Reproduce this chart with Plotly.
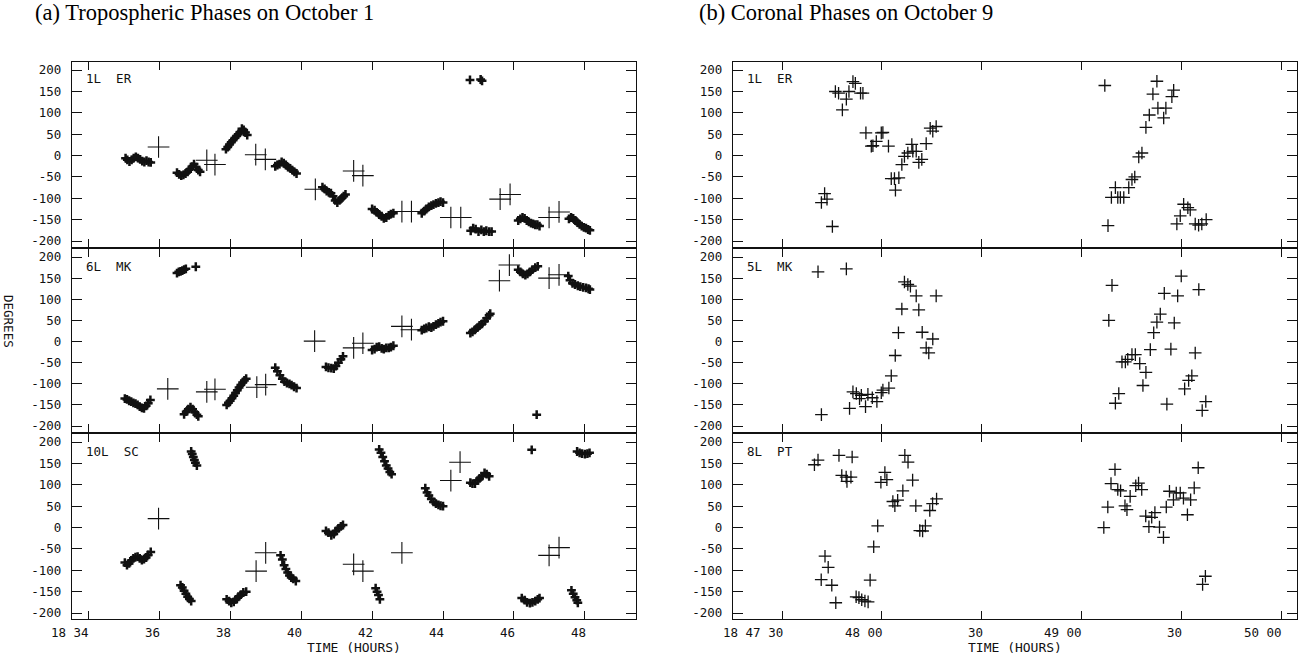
import plotly.graph_objects as go

# ---------------- DATA ----------------
# (a) Tropospheric phases, October 1 (time in hours, phase in degrees)
er1_t = [35.05,35.1,35.16,35.22,35.28,35.34,35.4,35.46,35.52,35.58,35.64,35.7,35.76,
         36.5,36.56,36.62,36.68,36.74,36.8,36.86,36.92,36.98,37.04,37.1,37.15,
         37.88,37.93,37.98,38.03,38.08,38.13,38.18,38.23,38.28,38.33,38.38,38.43,38.48,
         39.27,39.33,39.39,39.45,39.51,39.57,39.63,39.69,39.75,39.81,39.87,
         40.6,40.66,40.72,40.78,40.84,40.9,40.96,41.02,41.08,41.14,41.2,41.25,
         42.0,42.07,42.13,42.2,42.27,42.33,42.4,42.47,42.53,42.6,
         43.4,43.47,43.53,43.6,43.67,43.73,43.8,43.87,43.93,44.0,
         44.78,44.85,44.92,45.0,45.08,45.15,45.22,45.3,45.37,
         44.76,45.06,45.1,
         46.12,46.18,46.24,46.3,46.36,46.42,46.48,46.54,46.6,46.66,46.72,
         47.55,47.61,47.67,47.73,47.79,47.85,47.91,47.97,48.03,48.09,48.14]
er1_deg = [-6,-10,-14,-10,-6,-3,-6,-9,-13,-15,-12,-15,-16,
           -40,-44,-47,-45,-42,-38,-32,-26,-20,-27,-34,-38,
           15,20,26,31,36,41,46,50,55,63,60,54,48,
           -25,-22,-20,-15,-18,-22,-27,-30,-34,-38,-42,
           -74,-78,-83,-86,-88,-95,-105,-110,-105,-100,-95,-91,
           -125,-128,-133,-138,-142,-147,-145,-140,-137,-135,
           -135,-130,-125,-120,-117,-115,-112,-110,-108,-110,
           -176,-170,-172,-178,-174,-178,-176,-178,-178,
           177,178,175,
           -152,-148,-145,-147,-152,-155,-158,-160,-162,-162,-165,
           -148,-145,-147,-152,-157,-161,-165,-168,-170,-173,-175]
er1_big_t = [35.98,37.34,37.57,38.72,38.99,40.4,41.48,41.74,42.84,43.11,44.22,44.5,45.61,45.89,46.99,47.27]
er1_big_deg = [20,-11,-21,2,-9,-79,-36,-47,-131,-131,-145,-145,-102,-91,-145,-132]

mk6_t = [35.03,35.09,35.15,35.21,35.27,35.33,35.39,35.45,35.51,35.57,35.63,35.69,35.75,
         36.5,36.55,36.6,36.65,36.7,36.75,37.03,
         36.7,36.76,36.82,36.88,36.94,37.0,37.06,37.1,
         37.9,37.95,38.0,38.05,38.1,38.15,38.2,38.25,38.3,38.35,38.4,38.45,
         39.27,39.33,39.4,39.47,39.53,39.6,39.67,39.73,39.8,39.87,
         40.7,40.77,40.85,40.92,40.98,41.05,41.12,41.18,
         42.0,42.07,42.13,42.2,42.27,42.33,42.4,42.47,42.53,42.6,
         43.4,43.47,43.53,43.6,43.67,43.73,43.8,43.87,43.93,44.0,
         44.77,44.83,44.9,44.97,45.03,45.1,45.17,45.23,45.3,45.33,
         46.12,46.18,46.25,46.32,46.38,46.45,46.52,46.6,46.67,
         46.64,
         47.53,47.58,47.65,47.72,47.8,47.87,47.95,48.03,48.1,48.14]
mk6_deg = [-135,-137,-140,-142,-145,-147,-150,-154,-157,-158,-152,-146,-138,
           162,165,166,168,170,172,177,
           -172,-166,-160,-155,-160,-167,-173,-177,
           -150,-145,-140,-134,-128,-122,-115,-109,-103,-97,-92,-88,
           -62,-70,-80,-88,-95,-98,-100,-103,-107,-110,
           -60,-62,-63,-64,-58,-50,-42,-35,
           -20,-18,-13,-12,-16,-18,-15,-15,-13,-10,
           27,30,32,35,33,36,40,43,46,48,
           20,23,28,33,38,42,48,55,62,66,
           170,165,160,157,160,165,170,175,178,
           -173,
           155,145,138,135,132,130,128,127,125,123]
mk6_big_t = [36.24,37.34,37.57,38.75,39.0,40.38,41.48,41.74,42.84,43.11,45.59,45.87,46.99,47.27]
mk6_big_deg = [-112,-119,-113,-108,-102,1,-15,-4,36,28,144,181,150,158]

sc10_t = [35.03,35.09,35.15,35.21,35.27,35.33,35.39,35.45,35.51,35.57,35.63,35.69,35.76,
          36.9,36.93,36.96,36.99,37.02,37.06,
          36.6,36.65,36.7,36.75,36.8,36.85,36.9,
          37.9,37.97,38.03,38.1,38.17,38.23,38.3,38.37,38.45,
          39.42,39.47,39.52,39.57,39.62,39.67,39.72,39.78,39.85,
          40.7,40.77,40.85,40.92,40.98,41.05,41.12,41.18,
          42.2,42.25,42.3,42.35,42.4,42.45,42.5,42.55,
          42.1,42.14,42.18,42.22,
          43.5,43.55,43.6,43.67,43.73,43.8,43.87,43.93,44.0,
          44.77,44.83,44.9,44.97,45.03,45.1,45.17,45.23,45.3,
          46.5,
          46.22,46.3,46.37,46.45,46.52,46.6,46.67,46.72,
          47.62,47.67,47.72,47.77,47.8,
          47.78,47.85,47.92,48.0,48.07,48.13]
sc10_deg = [-82,-88,-84,-77,-72,-69,-68,-72,-76,-74,-70,-64,-57,
            178,172,165,158,152,145,
            -135,-140,-148,-155,-162,-167,-172,
            -168,-172,-176,-174,-168,-162,-157,-152,-150,
            -65,-75,-88,-97,-105,-112,-117,-120,-125,
            -8,-12,-18,-15,-8,-2,3,6,
            183,175,165,155,145,138,130,125,
            -142,-150,-158,-168,
            92,82,75,67,60,56,53,51,50,
            105,103,103,110,115,120,128,125,120,
            182,
            -165,-170,-175,-177,-175,-172,-168,-165,
            -147,-155,-163,-170,-176,
            178,175,173,172,173,175]
sc10_big_t = [35.98,38.73,39.0,41.48,41.74,42.84,44.22,44.48,46.99,47.27]
sc10_big_deg = [21,-102,-59,-86,-102,-59,110,153,-65,-47]

# (b) Coronal phases, October 9 (time in hours, phase in degrees)
er1b_t = [47.697,47.713,47.725,47.752,47.767,47.783,47.802,47.822,47.835,47.855,47.867,47.893,47.905,
          47.92,47.947,47.955,47.972,47.997,48.005,48.033,48.047,48.063,48.068,48.085,48.1,48.113,
          48.13,48.15,48.155,48.172,48.185,48.2,48.222,48.242,48.255,48.272,
          49.117,49.133,49.15,49.17,49.182,49.195,49.212,49.237,49.253,49.267,49.287,49.303,49.323,
          49.34,49.358,49.378,49.383,49.412,49.423,49.453,49.462,49.478,49.495,49.512,49.533,49.545,
          49.57,49.587,49.603,49.625]
er1b_deg = [-110,-89,-102,-166,150,146,107,132,150,173,169,146,146,
            53,22,23,33,53,54,22,-54,-54,-81,-52,-21,-2,
            6,26,10,10,-16,-9,28,64,57,68,
            164,-164,-98,-75,-98,-98,-98,-75,-56,-50,-3,6,66,
            95,144,174,111,88,111,138,153,-160,-141,-114,-122,-127,
            -160,-163,-160,-150]

mk5_t = [47.68,47.697,47.822,47.838,47.855,47.872,47.888,47.897,47.918,47.93,47.952,47.975,47.997,
         48.005,48.035,48.047,48.067,48.083,48.1,48.113,48.13,48.143,48.172,48.185,48.202,48.222,
         48.235,48.255,48.272,
         49.137,49.153,49.17,49.187,49.203,49.22,49.232,49.253,49.27,49.292,49.308,49.323,49.345,
         49.362,49.378,49.395,49.415,49.428,49.448,49.465,49.482,49.5,49.517,49.537,49.553,49.57,
         49.588,49.605,49.623]
mk5_deg = [165,-173,172,-158,-119,-123,-135,-127,-154,-125,-133,-142,-121,
           -115,-110,-81,-33,21,77,141,135,131,108,75,22,-15,
           -27,6,108,
           50,133,-146,-123,-48,-48,-42,-31,-31,-52,-104,-73,-19,
           21,46,65,114,-148,-18,44,108,155,-112,-92,-81,-27,
           123,-163,-142]

pt8_t = [47.662,47.68,47.696,47.715,47.731,47.749,47.769,47.785,47.799,47.821,47.825,47.845,47.851,
         47.871,47.885,47.899,47.915,47.931,47.941,47.959,47.979,47.995,48.015,48.025,48.055,48.065,
         48.079,48.105,48.115,48.131,48.154,48.17,48.19,48.204,48.218,48.24,48.254,48.274,
         49.112,49.132,49.148,49.168,49.182,49.196,49.218,49.228,49.244,49.272,49.286,49.302,49.322,
         49.338,49.352,49.368,49.391,49.411,49.425,49.441,49.461,49.475,49.495,49.511,49.531,49.547,
         49.565,49.585,49.607,49.621]
pt8_deg = [147,158,-122,-67,-93,-135,-176,169,122,118,108,118,165,
           -162,-164,-169,-172,-174,-123,-45,4,106,129,112,61,51,
           64,86,169,153,111,51,-7,-8,4,40,56,67,
           0,48,103,136,89,86,51,42,73,98,104,89,27,
           2,24,35,1,-23,48,85,65,81,81,69,30,65,
           93,140,-133,-114]

deg_ticks = [-200, -150, -100, -50, 0, 50, 100, 150, 200]
deg_labels = ["-200", "-150", "-100", "-50", "0", "50", "100", "150", "200"]
left_time_ticks = [34, 36, 38, 40, 42, 44, 46, 48]
left_time_labels = ["18 34", "36", "38", "40", "42", "44", "46", "48"]
right_time_ticks = [47.5, 48.0, 48.5, 49.0, 49.5, 50.0]
right_time_labels = ["18 47 30", "48 00", "30", "49 00", "30", "50 00"]
left_station_labels = ["1L  ER", "6L  MK", "10L  SC"]
right_station_labels = ["1L  ER", "5L  MK", "8L  PT"]

# ---------------- FIGURE ----------------
W, H = 1314, 658
MONO = "DejaVu Sans Mono"
INK = "#111111"

def px_x(p):
    return p / W

def px_y(p):
    return 1 - p / H

xL = [px_x(72), px_x(636)]
xR = [px_x(733), px_x(1297)]
rows = [(62, 247), (249, 432), (434, 619)]
ydoms = [[px_y(b), px_y(t)] for t, b in rows]

fig = go.Figure()

small = dict(symbol="cross-thin", size=6.3, color=INK, line=dict(width=2.5, color=INK))
big = dict(symbol="cross-thin", size=15.5, color=INK, line=dict(width=1.1, color=INK))
mid = dict(symbol="cross-thin", size=9, color=INK, line=dict(width=1.3, color=INK))

left_sets = [(er1_t, er1_deg, er1_big_t, er1_big_deg),
             (mk6_t, mk6_deg, mk6_big_t, mk6_big_deg),
             (sc10_t, sc10_deg, sc10_big_t, sc10_big_deg)]
right_sets = [(er1b_t, er1b_deg), (mk5_t, mk5_deg), (pt8_t, pt8_deg)]

def ax_suffix(i):
    return "" if i == 1 else str(i)

for r in range(3):
    i = r + 1
    st, sd, bt, bd = left_sets[r]
    fig.add_trace(go.Scatter(x=st, y=sd, mode="markers", marker=small,
                             xaxis="x" + ax_suffix(i), yaxis="y" + ax_suffix(i), showlegend=False))
    fig.add_trace(go.Scatter(x=bt, y=bd, mode="markers", marker=big,
                             xaxis="x" + ax_suffix(i), yaxis="y" + ax_suffix(i), showlegend=False))
    j = r + 4
    rt, rd = right_sets[r]
    fig.add_trace(go.Scatter(x=rt, y=rd, mode="markers", marker=mid,
                             xaxis="x" + ax_suffix(j), yaxis="y" + ax_suffix(j), showlegend=False))

tickfont = dict(family=MONO, size=12.5, color=INK)
layout = dict(width=W, height=H, autosize=False, margin=dict(l=0, r=0, t=0, b=0, pad=0, autoexpand=False),
              paper_bgcolor="white", plot_bgcolor="white", showlegend=False)

for r in range(3):
    for col in range(2):
        i = r + 1 + 3 * col
        s = ax_suffix(i)
        if col == 0:
            xr = [33.54, 49.44]
            tv = left_time_ticks
            dom = xL
        else:
            xr = [47.254, 50.08]
            tv = right_time_ticks
            dom = xR
        layout["xaxis" + s] = dict(domain=dom, range=xr, anchor="y" + s, automargin=False,
                                   showgrid=False, zeroline=False, showline=True,
                                   linecolor=INK, linewidth=1.3, mirror="ticks",
                                   ticks="inside", ticklen=8, tickwidth=1.3, tickcolor=INK,
                                   tickvals=tv, showticklabels=False, fixedrange=True)
        layout["yaxis" + s] = dict(domain=ydoms[r], range=[-214, 219], anchor="x" + s,
                                   automargin=False,
                                   showgrid=False, zeroline=False, showline=True,
                                   linecolor=INK, linewidth=1.3, mirror="ticks",
                                   ticks="inside", ticklen=10, tickwidth=1.3, tickcolor=INK,
                                   tickvals=deg_ticks, ticktext=deg_labels,
                                   showticklabels=True, tickfont=tickfont,
                                   ticklabelstandoff=7, fixedrange=True)

annotations = []
# bottom time tick labels, right-aligned at their ticks
for tv, tl in zip(left_time_ticks, left_time_labels):
    annotations.append(dict(xref="x3", yref="paper", x=tv, y=px_y(632), text=tl,
                            showarrow=False, xanchor="right", yanchor="middle", xshift=3,
                            font=tickfont))
for tv, tl in zip(right_time_ticks, right_time_labels):
    annotations.append(dict(xref="x6", yref="paper", x=tv, y=px_y(632), text=tl,
                            showarrow=False, xanchor="right", yanchor="middle", xshift=3,
                            font=tickfont))

for r in range(3):
    annotations.append(dict(xref="paper", yref="paper", x=px_x(84), y=px_y(rows[r][0] + 17),
                            text=left_station_labels[r], showarrow=False, xanchor="left",
                            yanchor="middle", font=dict(family=MONO, size=12.5, color=INK)))
    annotations.append(dict(xref="paper", yref="paper", x=px_x(745), y=px_y(rows[r][0] + 17),
                            text=right_station_labels[r], showarrow=False, xanchor="left",
                            yanchor="middle", font=dict(family=MONO, size=12.5, color=INK)))

annotations.append(dict(xref="paper", yref="paper", x=px_x(354), y=px_y(647), text="TIME (HOURS)",
                        showarrow=False, xanchor="center", yanchor="middle",
                        font=dict(family=MONO, size=13, color=INK)))
annotations.append(dict(xref="paper", yref="paper", x=px_x(1015), y=px_y(647), text="TIME (HOURS)",
                        showarrow=False, xanchor="center", yanchor="middle",
                        font=dict(family=MONO, size=13, color=INK)))
annotations.append(dict(xref="paper", yref="paper", x=px_x(9), y=px_y(321), text="DEGREES",
                        showarrow=False, xanchor="center", yanchor="middle", textangle=90,
                        font=dict(family=MONO, size=12.5, color=INK)))
annotations.append(dict(xref="paper", yref="paper", x=px_x(33), y=px_y(13),
                        text="(a) Tropospheric Phases on October 1", showarrow=False,
                        xanchor="left", yanchor="middle",
                        font=dict(family="Liberation Serif", size=22.5, color="#000")))
annotations.append(dict(xref="paper", yref="paper", x=px_x(697), y=px_y(13),
                        text="(b) Coronal Phases on October 9", showarrow=False,
                        xanchor="left", yanchor="middle",
                        font=dict(family="Liberation Serif", size=22.5, color="#000")))
layout["annotations"] = annotations

fig.update_layout(**layout)
fig.write_html("out.html",
               config={"displayModeBar": False, "staticPlot": False},
               post_script="document.body.style.margin='0';document.body.style.padding='0';"
                           "document.body.style.overflow='hidden';")
